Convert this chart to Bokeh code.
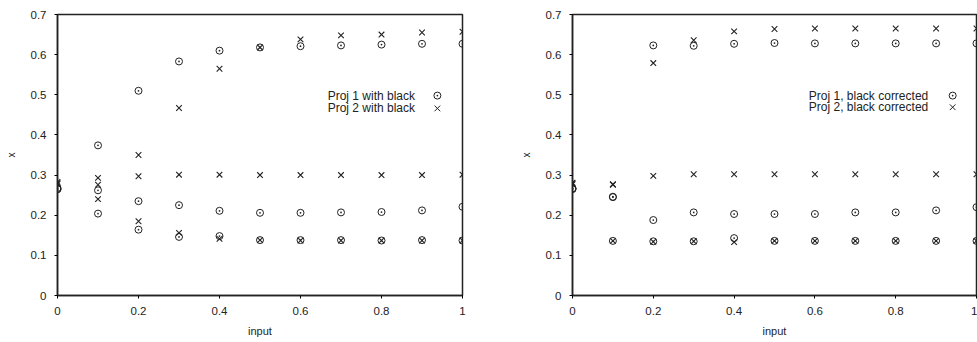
from bokeh.plotting import figure
from bokeh.layouts import row
from bokeh.models import FixedTicker, CustomJSTickFormatter, Label, Range1d
from bokeh.embed import file_html
from bokeh.resources import INLINE

# ---------------- data ----------------
inputs = [0.0, 0.1, 0.2, 0.3, 0.4, 0.5, 0.6, 0.7, 0.8, 0.9, 1.0]

# left panel: with black
proj1_black_a = [0.265, 0.374, 0.510, 0.583, 0.610, 0.618, 0.621, 0.623, 0.625, 0.627, 0.627]
proj1_black_b = [0.268, 0.262, 0.235, 0.225, 0.211, 0.206, 0.206, 0.207, 0.208, 0.212, 0.221]
proj1_black_c = [0.265, 0.204, 0.164, 0.146, 0.148, 0.138, 0.138, 0.138, 0.137, 0.138, 0.137]
proj2_black_a = [0.283, 0.276, 0.350, 0.467, 0.565, 0.618, 0.638, 0.648, 0.650, 0.655, 0.657]
proj2_black_b = [0.280, 0.293, 0.297, 0.301, 0.301, 0.300, 0.300, 0.300, 0.300, 0.300, 0.301]
proj2_black_c = [0.278, 0.240, 0.185, 0.156, 0.141, 0.138, 0.137, 0.137, 0.137, 0.137, 0.137]

# right panel: black corrected
proj1_corr_a = [0.265, 0.246, 0.623, 0.622, 0.627, 0.629, 0.628, 0.628, 0.628, 0.628, 0.628]
proj1_corr_b = [0.266, 0.245, 0.188, 0.207, 0.203, 0.203, 0.203, 0.207, 0.207, 0.212, 0.220]
proj1_corr_c = [0.267, 0.136, 0.135, 0.135, 0.143, 0.136, 0.136, 0.136, 0.136, 0.136, 0.136]
proj2_corr_a = [0.281, 0.277, 0.579, 0.636, 0.658, 0.664, 0.665, 0.665, 0.665, 0.665, 0.665]
proj2_corr_b = [0.279, 0.276, 0.298, 0.302, 0.302, 0.302, 0.302, 0.302, 0.302, 0.302, 0.302]
proj2_corr_c = [0.277, 0.136, 0.134, 0.135, 0.133, 0.136, 0.136, 0.136, 0.136, 0.136, 0.136]

x_ticks = [0, 0.2, 0.4, 0.6, 0.8, 1]
x_tick_labels = ["0", "0.2", "0.4", "0.6", "0.8", "1"]
y_ticks = [0, 0.1, 0.2, 0.3, 0.4, 0.5, 0.6, 0.7]
y_tick_labels = ["0", "0.1", "0.2", "0.3", "0.4", "0.5", "0.6", "0.7"]

left_legend = ["Proj 1 with black", "Proj 2 with black"]
right_legend = ["Proj 1, black corrected", "Proj 2, black corrected"]

FONT = "Liberation Sans"
FMT_CODE = """
for (let i = 0; i < tvals.length; i++) {
  if (Math.abs(tvals[i] - tick) < 1e-9) { return tlabels[i]; }
}
return "";
"""


def make_fig(width, height, border_left, border_right, border_top, border_bottom):
    p = figure(width=width, height=height, output_backend="svg", toolbar_location=None,
               x_range=Range1d(0, 1), y_range=Range1d(0, 0.7),
               min_border_left=border_left, min_border_right=border_right,
               min_border_top=border_top, min_border_bottom=border_bottom)
    p.xgrid.visible = False
    p.ygrid.visible = False
    p.outline_line_color = "#222222"
    p.outline_line_width = 1.5
    p.background_fill_color = "white"
    p.border_fill_color = "white"

    p.xaxis.ticker = FixedTicker(ticks=x_ticks)
    p.xaxis.formatter = CustomJSTickFormatter(args=dict(tvals=x_ticks, tlabels=x_tick_labels), code=FMT_CODE)
    p.yaxis.ticker = FixedTicker(ticks=y_ticks)
    p.yaxis.formatter = CustomJSTickFormatter(args=dict(tvals=y_ticks, tlabels=y_tick_labels), code=FMT_CODE)
    for ax in (p.xaxis, p.yaxis):
        ax.axis_line_width = 1.5
        ax.axis_line_color = "#222222"
        ax.major_tick_out = 3
        ax.major_tick_in = 0
        ax.minor_tick_out = 0
        ax.minor_tick_in = 0
        ax.major_label_text_font = FONT
        ax.major_label_text_font_size = "11.5px"
        ax.major_label_text_color = "#222222"
        ax.axis_label_text_font = FONT
        ax.axis_label_text_font_style = "normal"
        ax.axis_label_text_color = "#222222"
    p.xaxis.axis_label = "input"
    p.xaxis.axis_label_text_font_size = "11px"
    p.xaxis.major_label_standoff = 8
    p.xaxis.axis_label_standoff = 7
    p.yaxis.axis_label = "x"
    p.yaxis.axis_label_text_font_size = "10px"
    p.yaxis.major_label_standoff = 8
    p.yaxis.axis_label_standoff = 11
    return p


def add_series(p, circ_series, x_series):
    for ys in circ_series:
        p.scatter(inputs, ys, marker="circle_dot", size=7, line_color="#222222",
                  fill_color=None, line_width=1)
    for ys in x_series:
        p.scatter(inputs, ys, marker="x", size=8, line_color="#222222", line_width=1.1)


def add_legend(p, labels, text_x, mark_x, rows_y):
    markers = ["circle_dot", "x"]
    sizes = [7, 8]
    for lab, yy, mk, sz in zip(labels, rows_y, markers, sizes):
        p.add_layout(Label(x=text_x, y=yy, text=lab, text_font=FONT, text_font_size="12px",
                           text_baseline="middle", text_color="#222222"))
        p.scatter([mark_x], [yy], marker=mk, size=sz, line_color="#222222",
                  fill_color=None, line_width=1)


p1 = make_fig(490, 342, 57, 28, 12, 47)
add_series(p1, [proj1_black_a, proj1_black_b, proj1_black_c],
           [proj2_black_a, proj2_black_b, proj2_black_c])
add_legend(p1, left_legend, 0.667, 0.938, [0.498, 0.466])

p2 = make_fig(487, 342, 82, 1, 14, 45)
add_series(p2, [proj1_corr_a, proj1_corr_b, proj1_corr_c],
           [proj2_corr_a, proj2_corr_b, proj2_corr_c])
add_legend(p2, right_legend, 0.585, 0.941, [0.498, 0.469])

layout = row(p1, p2)
open("out.html", "w").write(file_html(layout, INLINE))
